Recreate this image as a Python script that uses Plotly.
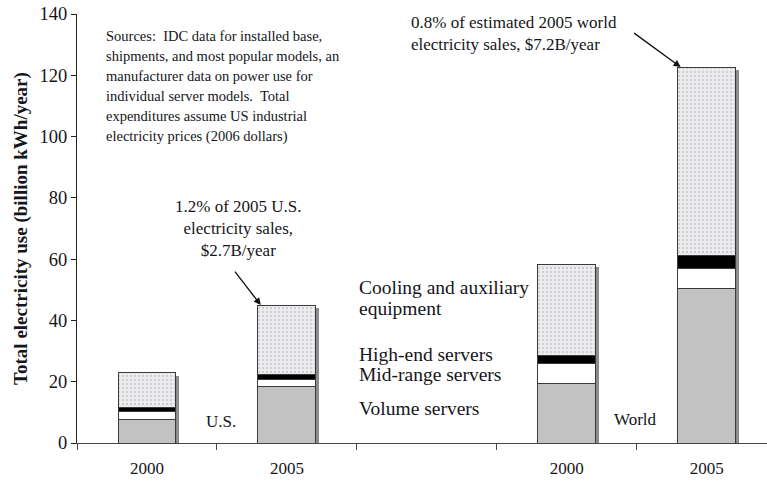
import plotly.graph_objects as go

categories = ["US 2000", "US 2005", "gap", "World 2000", "World 2005"]
tick_labels = ["2000", "2005", "", "2000", "2005"]
volume = [7.8, 18.6, None, 19.5, 50.3]
mid_range = [2.5, 2.2, None, 6.5, 6.7]
high_end = [1.3, 1.4, None, 2.7, 4.1]
cooling = [11.4, 22.8, None, 29.7, 61.6]

series = [
    ("Volume servers", volume, dict(color="#c2c2c2")),
    ("Mid-range servers", mid_range, dict(color="#ffffff")),
    ("High-end servers", high_end, dict(color="#000000")),
    ("Cooling and auxiliary equipment", cooling,
     dict(color="#ebebee", pattern=dict(shape=".", fgcolor="#d0d0d5", bgcolor="#ededf0",
                                         size=4, solidity=0.3, fillmode="replace"))),
]

FONT = "Liberation Serif"
TXT = "#151520"
bw = 0.414

totals = [None if v is None else round(v + m + h + c, 2)
          for v, m, h, c in zip(volume, mid_range, high_end, cooling)]

fig = go.Figure()
# drop shadow behind the bars (base subplot)
fig.add_trace(go.Bar(x=categories, y=[None if t is None else t - 1.0 for t in totals],
                     width=bw, offset=-bw / 2 + 0.022, marker=dict(color="#8c8c8c", line=dict(width=0)),
                     showlegend=False, hoverinfo="skip", xaxis="x", yaxis="y"))
for name, vals, mk in series:
    mk = dict(mk)
    mk["line"] = dict(color="#3a3a3a", width=1)
    fig.add_trace(go.Bar(x=categories, y=vals, name=name, marker=mk, width=bw,
                         showlegend=False, xaxis="x2", yaxis="y"))

L, T, R, B = 77, 14, 0, 39
W, H = 767, 482
PW, PH = W - L - R, H - T - B


def px(x):
    return (x - L) / PW


def py(y):
    return (H - B - y) / PH


ann = []
sources = [
    "Sources:  IDC data for installed base,",
    "shipments, and most popular models, an",
    "manufacturer data on power use for",
    "individual server models.  Total",
    "expenditures assume US industrial",
    "electricity prices (2006 dollars)",
]
for i, line in enumerate(sources):
    ann.append(dict(xref="paper", yref="paper", x=px(104), y=py(36 + 20 * i), text=line,
                    showarrow=False, xanchor="left", yanchor="middle",
                    font=dict(family=FONT, size=14.5, color=TXT)))

def label(x, y, text, size=17, anchor="left", align="left"):
    ann.append(dict(xref="paper", yref="paper", x=px(x), y=py(y), text=text, showarrow=False,
                    xanchor=anchor, yanchor="middle", align=align,
                    font=dict(family=FONT, size=size, color=TXT)))

label(238, 228, "1.2% of 2005 U.S.<br>electricity sales,<br>$2.7B/year", anchor="center", align="center")
label(409, 33, "0.8% of estimated 2005 world<br>electricity sales, $7.2B/year")
label(357, 287, "Cooling and auxiliary", size=19.5)
label(357, 309, "equipment", size=19.5)
label(357, 354, "High-end servers", size=19.5)
label(357, 374, "Mid-range servers", size=19.5)
label(357, 408, "Volume servers", size=19.5)
label(204, 421, "U.S.")
label(612, 419, "World")

ann.append(dict(xref="x", yref="y", x=1 - bw / 2 + 0.02, y=totals[1], ax=-27, ay=-35,
                text="", showarrow=True, arrowhead=2, arrowsize=1.1, arrowwidth=1.3,
                arrowcolor="#111"))
ann.append(dict(xref="x", yref="y", x=4 - bw / 2 + 0.02, y=totals[4], ax=-48, ay=-35,
                text="", showarrow=True, arrowhead=2, arrowsize=1.1, arrowwidth=1.3,
                arrowcolor="#111"))

xcommon = dict(type="category", categoryorder="array", categoryarray=categories,
               range=[-0.5, 4.43])

fig.update_layout(
    width=W, height=H,
    margin=dict(l=L, r=R, t=T, b=B),
    barmode="stack",
    plot_bgcolor="white",
    paper_bgcolor="white",
    font=dict(family=FONT, color=TXT),
    annotations=ann,
    xaxis=dict(
        **xcommon, tickvals=categories, ticktext=tick_labels,
        tickson="boundaries", ticks="outside", ticklen=6, tickcolor="#444",
        showline=True, linecolor="#444", linewidth=1, showgrid=False,
        ticklabelstandoff=10,
        tickfont=dict(family=FONT, size=17, color=TXT),
    ),
    xaxis2=dict(**xcommon, overlaying="x", showticklabels=False, ticks="",
                showline=False, showgrid=False, zeroline=False),
    yaxis=dict(
        range=[0, 140], dtick=20, ticks="outside", ticklen=5, tickcolor="#222",
        showline=True, linecolor="#222", linewidth=1, showgrid=False, zeroline=False,
        tickfont=dict(family=FONT, size=18.5, color=TXT),
        title=dict(text="<b>Total electricity use (billion kWh/year)</b>",
                   font=dict(family=FONT, size=19, color=TXT), standoff=6),
    ),
)

fig.write_html(
    "out.html",
    config={"displayModeBar": False},
    post_script="document.body.style.margin='0';document.body.style.padding='0';"
                "document.documentElement.style.overflow='hidden';",
)
